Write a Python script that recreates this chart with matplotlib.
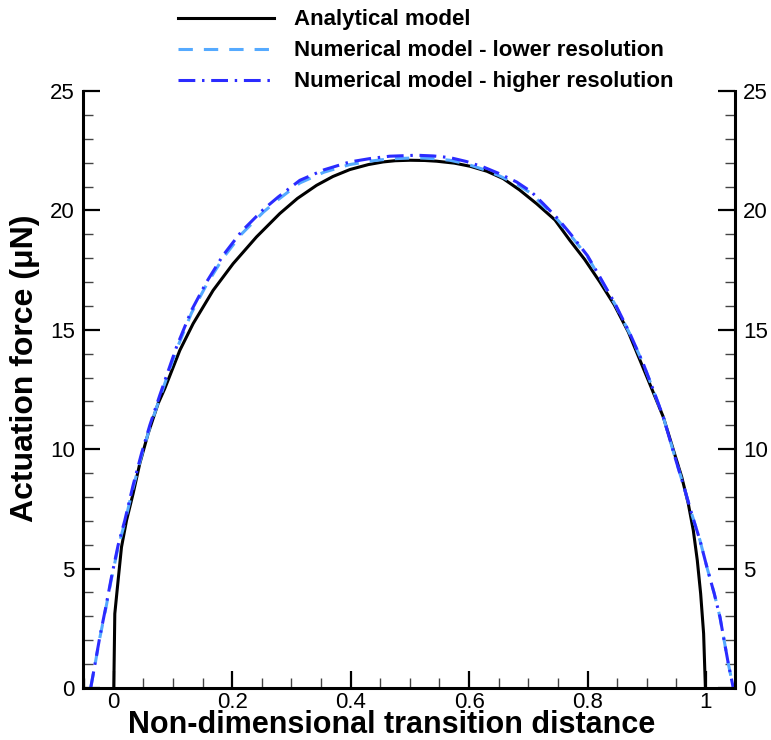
import matplotlib
matplotlib.use("Agg")
import matplotlib.pyplot as plt
from matplotlib.ticker import MultipleLocator, FuncFormatter

plt.rcParams['font.family'] = ['Liberation Sans', 'DejaVu Sans']

# Analytical model
x_ana = [0.0, 0.0017, 0.0073, 0.013, 0.0215, 0.0326, 0.0439, 0.0579, 0.0748, 0.0861,
         0.1115, 0.134, 0.1677, 0.2015, 0.241, 0.2804, 0.31, 0.3424, 0.37, 0.3986,
         0.43, 0.4549, 0.475, 0.5, 0.525, 0.5451, 0.575, 0.6014, 0.63, 0.6576,
         0.685, 0.714, 0.745, 0.77, 0.795, 0.8209, 0.845, 0.8688, 0.9025, 0.9279,
         0.9448, 0.959, 0.9701, 0.9786, 0.9853, 0.991, 0.996, 0.999]
y_ana = [0.0, 3.11, 4.51, 5.9, 7.02, 8.14, 9.40, 10.65, 11.91, 12.54,
         14.14, 15.26, 16.65, 17.77, 18.89, 19.87, 20.5, 21.05, 21.42, 21.71,
         21.92, 22.03, 22.08, 22.10, 22.09, 22.06, 21.98, 21.85, 21.64, 21.33,
         20.86, 20.28, 19.6, 18.75, 17.95, 17.0, 16.05, 14.91, 12.89, 11.35,
         9.98, 8.84, 7.72, 6.6, 5.35, 3.95, 2.28, 0.0]

# Numerical model - higher resolution
x_hi = [-0.039, -0.0321, -0.0236, -0.0135, -0.0039, 0.0073, 0.0186, 0.0326, 0.0468, 0.0608,
        0.0777, 0.1059, 0.1313, 0.1566, 0.1846, 0.2157, 0.2522, 0.2775, 0.3142, 0.355,
        0.3986, 0.435, 0.4662, 0.5113, 0.54, 0.5676, 0.595, 0.6238, 0.65, 0.6802,
        0.705, 0.7252, 0.75, 0.775, 0.8, 0.8209, 0.8463, 0.8716, 0.8941, 0.907,
        0.9279, 0.9476, 0.9645, 0.9758, 0.9899, 1.0022, 1.014, 1.0236, 1.0377, 1.0461]
y_hi = [0.0, 0.95, 2.14, 3.39, 4.65, 5.98, 7.02, 8.49, 9.82, 11.0,
        12.26, 14.28, 15.82, 17.0, 18.12, 19.12, 20.03, 20.56, 21.26, 21.7,
        22.03, 22.18, 22.27, 22.31, 22.28, 22.21, 22.05, 21.82, 21.55, 21.19,
        20.78, 20.28, 19.65, 18.9, 18.1, 17.21, 16.1, 14.84, 13.58, 12.75,
        11.35, 9.67, 8.28, 7.3, 6.18, 5.0, 3.95, 2.97, 1.02, 0.0]

# Numerical model - lower resolution
x_lo = x_hi
y_lo = [0.0, 0.93, 2.10, 3.33, 4.58, 5.90, 6.93, 8.39, 9.72, 10.9,
        12.15, 14.17, 15.71, 16.89, 18.01, 19.01, 19.92, 20.45, 21.15, 21.6,
        21.92, 22.07, 22.16, 22.20, 22.17, 22.10, 21.95, 21.72, 21.46, 21.10,
        20.71, 20.20, 19.59, 18.84, 18.06, 17.17, 16.07, 14.82, 13.57, 12.74,
        11.35, 9.67, 8.28, 7.3, 6.18, 5.0, 3.95, 2.97, 1.02, 0.0]

labels = ['Analytical model', 'Numerical model - lower resolution',
          'Numerical model - higher resolution']

fig = plt.figure(figsize=(7.71, 7.40), dpi=100)
ax = fig.add_axes([83/771, 1-688/740, (735-83)/771, (688-91)/740])

l1, = ax.plot(x_ana, y_ana, color='black', lw=2.2)
l2, = ax.plot(x_lo, y_lo, color='#55aaff', lw=2.2, dashes=(4.7, 3.6))
l3, = ax.plot(x_hi, y_hi, color='#2b2bff', lw=2.2, dashes=(5.5, 2.2, 0.8, 2.2))

ax.set_xlim(-0.052, 1.049)
ax.set_ylim(0, 25)

ax.xaxis.set_major_locator(MultipleLocator(0.2))
ax.xaxis.set_minor_locator(MultipleLocator(0.05))
ax.yaxis.set_major_locator(MultipleLocator(5))
ax.yaxis.set_minor_locator(MultipleLocator(1))
ax.xaxis.set_major_formatter(FuncFormatter(lambda v, p: '%g' % round(v, 2)))

ax.spines['top'].set_visible(False)
for s in ['left', 'right', 'bottom']:
    ax.spines[s].set_linewidth(2.2)

ax.tick_params(axis='both', which='major', direction='in', length=12, width=1.6,
               labelsize=16, pad=6, left=True, right=True, bottom=True, top=False,
               labelleft=True, labelright=True)
ax.tick_params(axis='x', which='major', pad=3)
ax.tick_params(axis='both', which='minor', direction='in', length=7, width=1.0,
               color='#444444', left=True, right=True, bottom=True, top=False)

ax.set_xlabel('Non-dimensional transition distance', fontsize=22, fontweight='bold',
              va='baseline')
ax.set_ylabel('Actuation force (\u03bcN)', fontsize=23, fontweight='bold', va='center')
ax.xaxis.set_label_coords((392-83)/652, (688-733)/597)
ax.yaxis.set_label_coords((25-83)/652, (688-368)/597)

fig.legend([l1, l2, l3], labels, loc='center left', bbox_to_anchor=(158/771, 1-51/740),
           frameon=False, handlelength=4.3, labelspacing=0.45,
           handletextpad=0.9, prop={'weight': 'bold', 'size': 16.0})

fig.savefig('out.png', dpi=100)
